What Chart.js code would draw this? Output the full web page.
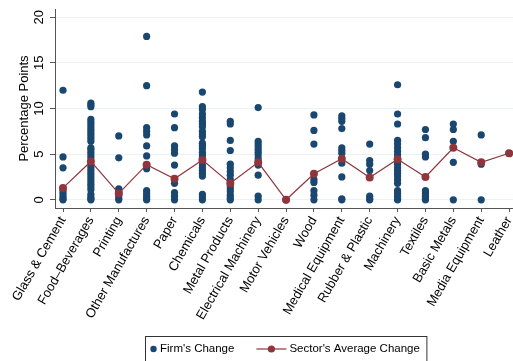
<!DOCTYPE html>
<html>
<head>
<meta charset="utf-8">
<script src="https://cdn.jsdelivr.net/npm/chart.js@4/dist/chart.umd.min.js"></script>
<style>
  html, body { margin: 0; padding: 0; background: #ffffff; }
  canvas { display: block; }
</style>
</head>
<body>
<canvas id="chart" width="513" height="361"></canvas>
<script>
// Sectors along the horizontal axis
const categories = [
  "Glass & Cement", "Food\u2013Beverages", "Printing", "Other Manufactures", "Paper",
  "Chemicals", "Metal Products", "Electrical Machinery", "Motor Vehicles", "Wood",
  "Medical Equipment", "Rubber & Plastic", "Machinery", "Textiles", "Basic Metals",
  "Media Equipment", "Leather"
];

// Firm-level changes (percentage points), one array per sector
const glassCement = [12.0, 4.7, 3.5, 1.0, 0.7, 0.4, 0.1, 0];
const foodBeverages = [10.6, 10.4, 10.2, 8.8, 8.5, 8.2, 7.9, 7.6, 7.3, 7.0, 6.7, 6.4, 5.7, 5.5, 5.2, 4.9, 4.6,
  3.8, 3.5, 3.2, 2.9, 2.6, 2.3, 2.0, 1.7, 1.4, 1.1, 0.6, 0.3, 0.1, 0];
const printing = [7.0, 4.6, 1.2, 1.0, 0.8, 0.5, 0.2, 0];
const otherManufactures = [17.9, 12.5, 7.9, 7.5, 7.1, 5.9, 4.8, 3.4, 1.0, 0.7, 0.4, 0.1, 0];
const paper = [9.4, 7.9, 5.9, 5.5, 5.1, 3.8, 1.8, 0.8, 0.4, 0];
const chemicals = [11.8, 10.2, 9.9, 9.4, 9.0, 8.6, 8.3, 8.0, 7.5, 7.2, 6.9, 6.2, 5.9, 5.6, 5.2, 4.9, 4.6,
  3.8, 3.5, 3.2, 2.9, 2.6, 0.6, 0.3, 0];
const metalProducts = [8.6, 8.3, 6.5, 5.4, 3.9, 3.5, 3.1, 2.7, 2.2, 1.5, 1.2, 0.9, 0.5, 0.2, 0];
const electricalMachinery = [10.1, 6.4, 6.1, 5.8, 5.5, 5.2, 4.9, 4.5, 3.8, 2.7, 0.4, 0];
const motorVehicles = [0];
const wood = [9.3, 7.6, 6.1, 2.2, 1.9, 1.0, 0.5, 0];
const medicalEquipment = [9.2, 8.9, 8.6, 7.8, 5.7, 5.4, 5.1, 4.0, 2.5, 0.1, 0];
const rubberPlastic = [6.1, 4.3, 3.9, 3.2, 0.4, 0.1, 0];
const machinery = [12.6, 9.4, 8.3, 6.5, 6.1, 5.7, 5.3, 4.9, 4.2, 3.9, 3.5, 3.2, 2.9, 2.6, 2.2, 1.8,
  1.0, 0.7, 0.4, 0.1, 0];
const textiles = [7.7, 6.8, 5.0, 4.7, 1.0, 0.7, 0.4, 0.1, 0];
const basicMetals = [8.3, 7.7, 6.4, 4.1, 0];
const mediaEquipment = [7.1, 3.9, 0];
const leather = [5.1];

const firmChanges = [
  glassCement, foodBeverages, printing, otherManufactures, paper, chemicals, metalProducts,
  electricalMachinery, motorVehicles, wood, medicalEquipment, rubberPlastic, machinery,
  textiles, basicMetals, mediaEquipment, leather
];

// Average change of each sector
const sectorAverage = [1.3, 4.2, 0.7, 3.85, 2.3, 4.35, 1.8, 4.1, 0, 2.85, 4.5, 2.45, 4.45, 2.5, 5.7, 4.1, 5.1];

// Vertical axis ticks
const yTicks = [0, 5, 10, 15, 20];

const NAVY = '#1a476f';
const MAROON = '#90353b';
const AXIS = '#555555';
const FONT = '"Liberation Sans", Arial, Helvetica, sans-serif';

const firmPoints = [];
firmChanges.forEach((vals, i) => vals.forEach(v => firmPoints.push({ x: i + 1, y: v })));
const averagePoints = sectorAverage.map((v, i) => ({ x: i + 1, y: v }));

// Boxed legend under the plot, centred on the plot region
const boxedLegend = {
  id: 'boxedLegend',
  afterDraw(chart) {
    const ctx = chart.ctx;
    const area = chart.chartArea;
    const items = chart.data.datasets.slice().sort((a, b) => b.order - a.order);
    ctx.save();
    ctx.font = '11.5px ' + FONT;
    ctx.textBaseline = 'middle';
    const w1 = ctx.measureText(items[0].label).width;
    const w2 = ctx.measureText(items[1].label).width;
    const total = 14.5 + w1 + 22 + 30 + 3 + w2 + 7;
    const left = Math.round((area.left + area.right) / 2 + 2 - total / 2) + 0.5;
    const top = 336.5;
    const cy = 349;

    ctx.fillStyle = '#ffffff';
    ctx.fillRect(left, top, total, 40);
    ctx.strokeStyle = '#333333';
    ctx.lineWidth = 1;
    ctx.strokeRect(left, top, total, 40);

    // scatter item
    ctx.fillStyle = items[0].backgroundColor;
    ctx.beginPath();
    ctx.arc(left + 8, cy, 3.2, 0, Math.PI * 2);
    ctx.fill();
    ctx.fillStyle = '#000000';
    ctx.fillText(items[0].label, left + 14.5, cy);

    // line item
    const lx = left + 14.5 + w1 + 22;
    ctx.strokeStyle = items[1].borderColor;
    ctx.lineWidth = 1.2;
    ctx.beginPath();
    ctx.moveTo(lx, cy);
    ctx.lineTo(lx + 30, cy);
    ctx.stroke();
    ctx.fillStyle = items[1].backgroundColor;
    ctx.beginPath();
    ctx.arc(lx + 15, cy, 3.6, 0, Math.PI * 2);
    ctx.fill();
    ctx.fillStyle = '#000000';
    ctx.fillText(items[1].label, lx + 33, cy);
    ctx.restore();
  }
};

new Chart(document.getElementById('chart'), {
  type: 'scatter',
  data: {
    datasets: [
      {
        type: 'line',
        label: "Sector's Average Change",
        data: averagePoints,
        borderColor: MAROON,
        backgroundColor: MAROON,
        borderWidth: 1.2,
        pointRadius: 4,
        pointBorderWidth: 0,
        pointBackgroundColor: MAROON,
        tension: 0,
        fill: false,
        order: 0,
        clip: false
      },
      {
        type: 'scatter',
        label: "Firm's Change",
        data: firmPoints,
        backgroundColor: NAVY,
        borderColor: NAVY,
        pointRadius: 3.6,
        pointBorderWidth: 0,
        order: 1,
        clip: false
      }
    ]
  },
  options: {
    responsive: false,
    animation: false,
    devicePixelRatio: 1,
    layout: { autoPadding: false, padding: { top: 9, right: 0, bottom: 0, left: 0 } },
    plugins: {
      legend: { display: false },
      tooltip: { enabled: false }
    },
    scales: {
      x: {
        type: 'linear',
        min: 0.713,
        max: 17.14,
        afterBuildTicks: s => { s.ticks = categories.map((c, i) => ({ value: i + 1 })); },
        afterFit: s => { s.height = 153; s.paddingLeft = 0; s.paddingRight = 0; },
        ticks: {
          autoSkip: false,
          minRotation: 60,
          maxRotation: 60,
          padding: 2,
          color: '#000000',
          font: { family: FONT, size: 13 },
          callback: v => categories[Math.round(v) - 1]
        },
        grid: { drawOnChartArea: false, drawTicks: true, tickLength: 4, tickColor: AXIS },
        border: { color: AXIS, width: 1 }
      },
      y: {
        min: -0.9,
        max: 20.9,
        afterBuildTicks: s => { s.ticks = yTicks.map(v => ({ value: v })); },
        afterFit: s => { s.width = 55; s.paddingTop = 0; s.paddingBottom = 0; },
        ticks: {
          minRotation: 90,
          maxRotation: 90,
          crossAlign: 'center',
          padding: 3,
          color: '#000000',
          font: { family: FONT, size: 13 }
        },
        grid: { color: '#eaf2f3', lineWidth: 1, tickColor: AXIS, tickLength: 5 },
        border: { color: AXIS, width: 1 },
        title: {
          display: true,
          text: 'Percentage Points',
          color: '#000000',
          font: { family: FONT, size: 13 },
          padding: { top: 17, bottom: 0 }
        }
      }
    }
  },
  plugins: [boxedLegend]
});
</script>
</body>
</html>
